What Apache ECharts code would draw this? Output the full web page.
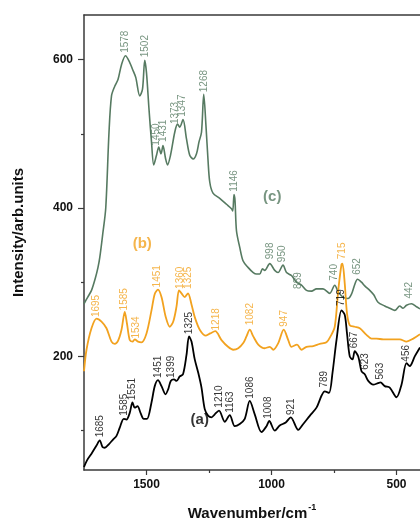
<!DOCTYPE html>
<html>
<head>
<meta charset="utf-8">
<script src="https://cdn.jsdelivr.net/npm/echarts@6/dist/echarts.min.js"></script>
<style>html,body{margin:0;padding:0;background:#fff;}#c{width:420px;height:526px;}</style>
</head>
<body>
<div id="c"></div>
<script>
// ---- data ----
const curveC = [[1750,271],[1735,280],[1720,289],[1705,305],[1694,320],[1687,333],[1675,365],[1663,400],[1650,502],[1640,551],[1627,564],[1614,573],[1600,593],[1584,605],[1567,596],[1556,587],[1543,576],[1527,551],[1516,560],[1507,599],[1500,582],[1490,533],[1480,489],[1471,458],[1460,471],[1451,482],[1442,473],[1434,484],[1424,467],[1416,458],[1404,471],[1387,502],[1376,513],[1367,509],[1354,519],[1340,493],[1327,471],[1313,466],[1300,473],[1290,489],[1280,502],[1271,553],[1262,510],[1254,465],[1247,435],[1234,420],[1207,413],[1180,405],[1160,399],[1155,396],[1150,418],[1146,410],[1140,369],[1127,347],[1114,329],[1094,320],[1073,313],[1060,311],[1047,311],[1036,318],[1027,316],[1007,325],[987,316],[974,313],[954,323],[940,313],[920,309],[900,300],[880,296],[860,289],[840,288],[820,291],[794,291],[767,285],[747,296],[733,287],[714,280],[694,278],[680,284],[667,297],[656,304],[640,300],[627,295],[607,289],[591,283],[574,273],[547,268],[527,265],[507,262],[487,268],[474,265],[460,269],[440,271],[420,267],[406,264]];
const curveB = [[1750,180],[1740,209],[1720,238],[1700,251],[1680,247],[1660,238],[1640,220],[1627,217],[1614,221],[1600,236],[1587,260],[1578,244],[1567,222],[1556,220],[1547,223],[1534,220],[1520,219],[1500,231],[1480,262],[1467,284],[1454,290],[1440,280],[1423,253],[1407,240],[1393,247],[1380,267],[1370,289],[1360,285],[1347,280],[1334,285],[1320,270],[1307,253],[1287,236],[1262,228],[1245,231],[1225,234],[1200,222],[1174,213],[1153,209],[1133,211],[1113,218],[1100,227],[1087,236],[1073,227],[1053,216],[1027,211],[1007,213],[993,209],[973,218],[951,236],[933,222],[920,213],[898,216],[880,209],[860,213],[833,214],[807,217],[780,219],[764,227],[747,240],[733,289],[720,324],[716,325],[707,298],[698,258],[687,242],[667,240],[647,238],[620,229],[600,224],[580,224],[553,223],[520,223],[487,223],[460,220],[433,224],[406,230]];
const curveA = [[1750,51],[1738,60],[1720,69],[1700,80],[1687,87],[1676,78],[1667,77],[1650,82],[1634,88],[1620,93],[1607,104],[1591,116],[1580,115],[1567,124],[1556,138],[1547,131],[1536,133],[1524,124],[1511,116],[1498,116],[1480,138],[1467,160],[1454,168],[1440,160],[1424,149],[1413,156],[1403,167],[1390,169],[1380,167],[1367,173],[1354,176],[1340,202],[1330,227],[1320,220],[1307,196],[1293,178],[1280,158],[1267,129],[1253,120],[1240,118],[1227,122],[1210,127],[1187,112],[1167,121],[1147,106],[1127,109],[1107,116],[1087,140],[1067,122],[1040,98],[1020,106],[1009,113],[987,100],[967,107],[943,111],[923,118],[893,101],[873,109],[847,120],[820,131],[800,147],[787,153],[770,151],[756,178],[740,222],[720,262],[707,256],[698,231],[687,200],[676,196],[667,207],[653,200],[640,180],[627,176],[613,167],[593,162],[574,164],[564,165],[547,160],[527,158],[500,145],[480,162],[460,191],[447,187],[427,200],[406,212]];

// peak annotations: [wavenumber, intensity, text]
const peaksC = [[1584,609,'1578'],[1507,603,'1502'],[1463,484,'1450'],[1433,489,'1431'],[1384,513,'1373'],[1357,523,'1347'],[1271,556,'1268'],[1151,422,'1146'],[1007,331,'998'],[956,327,'950'],[893,291,'889'],[750,302,'740'],[656,310,'652'],[449,278,'442']];
const peaksB = [[1700,253,'1695'],[1591,262,'1585'],[1540,224,'1534'],[1456,293,'1451'],[1367,291,'1360'],[1335,291,'1325'],[1220,235,'1218'],[1087,242,'1082'],[951,240,'947'],[716,331,'715']];
const peaksA = [[1687,91,'1685'],[1591,120,'1585'],[1556,141,'1551'],[1454,171,'1451'],[1403,171,'1399'],[1330,230,'1325'],[1210,131,'1210'],[1164,124,'1163'],[1087,143,'1086'],[1014,116,'1008'],[923,121,'921'],[791,158,'789'],[723,268,'719'],[671,211,'667'],[627,182,'623'],[567,169,'563'],[460,193,'456']];
const seriesTags = [[1287,115,'(a)'],[1517,351,'(b)'],[997,415,'(c)']];
const xMajorTicks = [1500,1000,500];
const xMinorTicks = [1250,750];
const yMajorTicks = [200,400,600];
const yMinorTicks = [100,300,500];

// ---- styles ----
const GREEN = '#567a61', ORANGE = '#f2a21f', BLACK = '#000000';
const FONT = 'Liberation Sans';
const X_MIN = 406, X_MAX = 1750, Y_MIN = 47, Y_MAX = 660;
const AXIS_C = '#3a3a3a';

function peakSeries(list, color) {
  return {
    type: 'scatter', symbolSize: 0, silent: true, z: 5,
    data: list.map(p => ({ value: [p[0], p[1]], name: p[2] })),
    label: { show: true, position: 'inside', rotate: 90, align: 'left', verticalAlign: 'middle',
      formatter: '{b}', color: color, fontFamily: FONT, fontSize: 10 }
  };
}

const chart = echarts.init(document.getElementById('c'), null, { renderer: 'canvas' });
chart.setOption({
  animation: false,
  backgroundColor: '#fff',
  grid: { left: 84, right: 0, top: 15, bottom: 51, show: false },
  xAxis: [{
    type: 'value', inverse: true, min: X_MIN, max: X_MAX,
    name: 'Wavenumber/cm{sup|-1}', nameLocation: 'middle', nameGap: 33,
    nameTextStyle: { fontFamily: FONT, fontWeight: 'bold', fontSize: 15, color: '#111',
      rich: { sup: { fontFamily: FONT, fontWeight: 'bold', fontSize: 9, color: '#111', padding: [0,0,12,1] } } },
    axisLine: { show: true, lineStyle: { color: AXIS_C, width: 1.5 } },
    axisTick: { show: true, customValues: xMajorTicks, length: 5, lineStyle: { color: AXIS_C, width: 1.2 } },
    axisLabel: { customValues: xMajorTicks, formatter: v => String(v), fontFamily: FONT, fontWeight: 'bold', fontSize: 12, color: '#111', margin: 9 },
    splitLine: { show: false }
  }, {
    type: 'value', inverse: true, min: X_MIN, max: X_MAX, position: 'bottom',
    axisLine: { show: false },
    axisTick: { show: true, customValues: xMinorTicks, length: 3, lineStyle: { color: AXIS_C, width: 1.2 } },
    axisLabel: { show: false }, splitLine: { show: false }
  }, {
    type: 'value', inverse: true, min: X_MIN, max: X_MAX, position: 'top',
    axisLine: { show: true, lineStyle: { color: AXIS_C, width: 1.5 } },
    axisTick: { show: false }, axisLabel: { show: false }, splitLine: { show: false }
  }],
  yAxis: [{
    type: 'value', min: Y_MIN, max: Y_MAX,
    name: 'Intensity/arb.units', nameLocation: 'middle', nameGap: 58, nameRotate: 90,
    nameTextStyle: { fontFamily: FONT, fontWeight: 'bold', fontSize: 15, color: '#111', padding: [0,0,0,20] },
    axisLine: { show: true, lineStyle: { color: AXIS_C, width: 1.5 } },
    axisTick: { show: true, customValues: yMajorTicks, length: 6, lineStyle: { color: AXIS_C, width: 1.2 } },
    axisLabel: { customValues: yMajorTicks, formatter: v => String(v), fontFamily: FONT, fontWeight: 'bold', fontSize: 12, color: '#111', margin: 11 },
    splitLine: { show: false }
  }, {
    type: 'value', min: Y_MIN, max: Y_MAX, position: 'left',
    axisLine: { show: false },
    axisTick: { show: true, customValues: yMinorTicks, length: 3, lineStyle: { color: AXIS_C, width: 1.2 } },
    axisLabel: { show: false }, splitLine: { show: false }
  }],
  series: [
    { type: 'line', data: curveC, smooth: 0.3, showSymbol: false, lineStyle: { color: GREEN, width: 1.6 }, z: 2 },
    { type: 'line', data: curveB, smooth: 0.3, showSymbol: false, lineStyle: { color: ORANGE, width: 1.8 }, z: 3 },
    { type: 'line', data: curveA, smooth: 0.3, showSymbol: false, lineStyle: { color: BLACK, width: 1.8 }, z: 4 },
    peakSeries(peaksC, GREEN),
    peakSeries(peaksB, ORANGE),
    peakSeries(peaksA, BLACK),
    {
      type: 'scatter', symbolSize: 0, silent: true, z: 6,
      data: seriesTags.map((p, i) => ({ value: [p[0], p[1]], name: p[2],
        label: { color: [BLACK, ORANGE, GREEN][i] } })),
      label: { show: true, position: 'inside', formatter: '{b}', fontFamily: FONT, fontWeight: 'bold', fontSize: 15 }
    }
  ]
});
</script>
</body>
</html>
